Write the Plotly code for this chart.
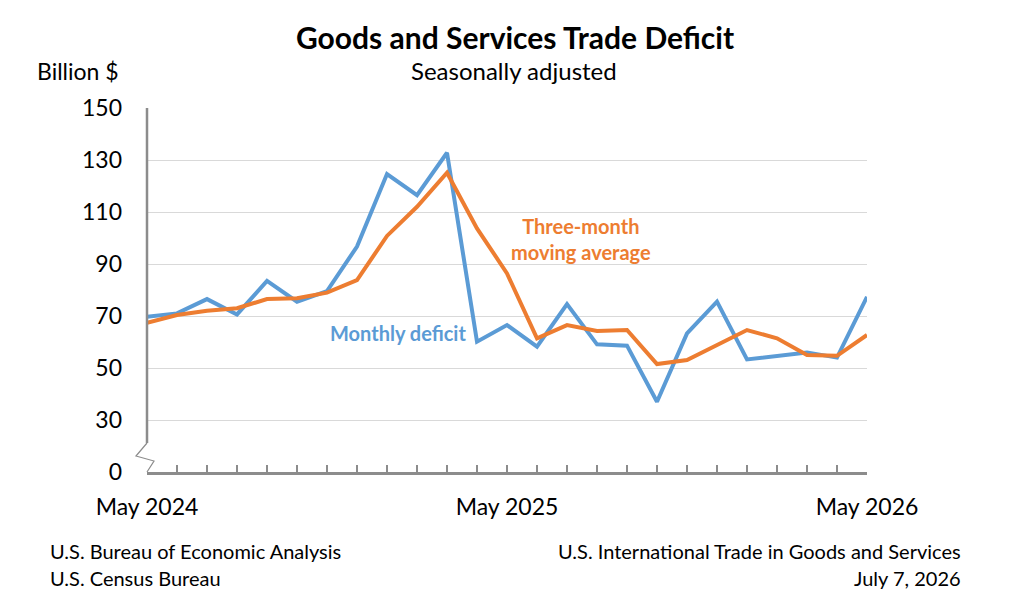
import plotly.graph_objects as go

months = ["May 2024", "Jun 2024", "Jul 2024", "Aug 2024", "Sep 2024", "Oct 2024",
          "Nov 2024", "Dec 2024", "Jan 2025", "Feb 2025", "Mar 2025", "Apr 2025",
          "May 2025", "Jun 2025", "Jul 2025", "Aug 2025", "Sep 2025", "Oct 2025",
          "Nov 2025", "Dec 2025", "Jan 2026", "Feb 2026", "Mar 2026", "Apr 2026",
          "May 2026"]
monthly_deficit = [69.7, 71.0, 76.5, 70.6, 83.5, 75.5, 79.6, 96.7, 124.6, 116.5,
                   132.8, 60.1, 66.5, 58.2, 74.6, 59.1, 58.6, 37.0, 63.3, 75.5,
                   53.3, 54.7, 56.0, 54.0, 77.4]
moving_average = [67.4, 70.4, 72.0, 73.0, 76.5, 76.8, 79.0, 83.8, 100.8, 112.0,
                  125.1, 103.7, 86.4, 61.4, 66.5, 64.2, 64.6, 51.5, 53.1, 58.8,
                  64.6, 61.4, 55.0, 54.7, 62.7]
ytick_vals = [10, 30, 50, 70, 90, 110, 130, 150]
ytick_text = ["0", "30", "50", "70", "90", "110", "130", "150"]
xtick_text = [m if m.startswith("May") else "" for m in months]

FONT = "Lato"
BLUE = "#5B9BD5"
ORANGE = "#ED7D31"
AXIS = "#8C8C8C"

W, H = 1019, 603
L, R, T, B = 147, 152, 108, 131
PW, PH = W - L - R, H - T - B


def px(x):
    return (x - L) / PW


def py(y):
    return (H - B - y) / PH


fig = go.Figure()
fig.add_trace(go.Scatter(x=months, y=monthly_deficit, mode="lines",
                         line=dict(color=BLUE, width=4), name="Monthly deficit"))
fig.add_trace(go.Scatter(x=months, y=moving_average, mode="lines",
                         line=dict(color=ORANGE, width=4), name="Three-month moving average"))

fig.update_layout(
    width=W, height=H,
    margin=dict(l=L, r=R, t=T, b=B),
    paper_bgcolor="white", plot_bgcolor="white",
    showlegend=False,
    font=dict(family=FONT, size=22, color="#000000"),
    xaxis=dict(type="category", range=[0, 24], tickvals=months, ticktext=xtick_text,
               showgrid=False, showline=True, linecolor=AXIS, linewidth=2.5,
               ticks="inside", ticklen=7, tickcolor=AXIS, tickwidth=1.5,
               ticklabelstandoff=13, tickangle=0,
               tickfont=dict(family=FONT, size=23)),
    yaxis=dict(range=[10, 150], tickvals=ytick_vals, ticktext=ytick_text,
               showgrid=True, gridcolor="#D9D9D9", gridwidth=1.2,
               showline=False, zeroline=False, ticks="",
               ticklabelstandoff=24,
               tickfont=dict(family=FONT, size=23)),
)

# left axis line with break
fig.add_shape(type="line", xref="paper", yref="y", x0=0, x1=0, y0=21.2, y1=150,
              line=dict(color=AXIS, width=2.5), layer="above")
fig.add_shape(type="path", xref="paper", yref="paper",
              path=f"M {px(147)},{py(443)} L {px(136)},{py(456)} L {px(154)},{py(461)} L {px(147)},{py(472)}",
              line=dict(color=AXIS, width=1.2), layer="above")


def text(t, x, y, size, anchor="center", color="#000", bold=False):
    if bold:
        t = f"<b>{t}</b>"
    fig.add_annotation(text=t, xref="paper", yref="paper", x=px(x), y=py(y),
                       xanchor=anchor, yanchor="middle", showarrow=False,
                       font=dict(family=FONT, size=size, color=color))


text("Goods and Services Trade Deficit", 515, 37, 30, bold=True)
text("Seasonally adjusted", 514, 71, 24)
text("Billion $", 35, 71, 23, anchor="left")

# series labels
text("Three-month<br>moving average", 581, 239, 20, color=ORANGE, bold=True)
text("Monthly deficit", 398, 333, 20, color=BLUE, bold=True)

# footers
text("U.S. Bureau of Economic Analysis", 48, 551, 20, anchor="left")
text("U.S. Census Bureau", 48, 578, 20, anchor="left")
text("U.S. International Trade in Goods and Services", 963, 551, 20, anchor="right")
text("July 7, 2026", 963, 578, 20, anchor="right")

fig.write_html("out.html")
